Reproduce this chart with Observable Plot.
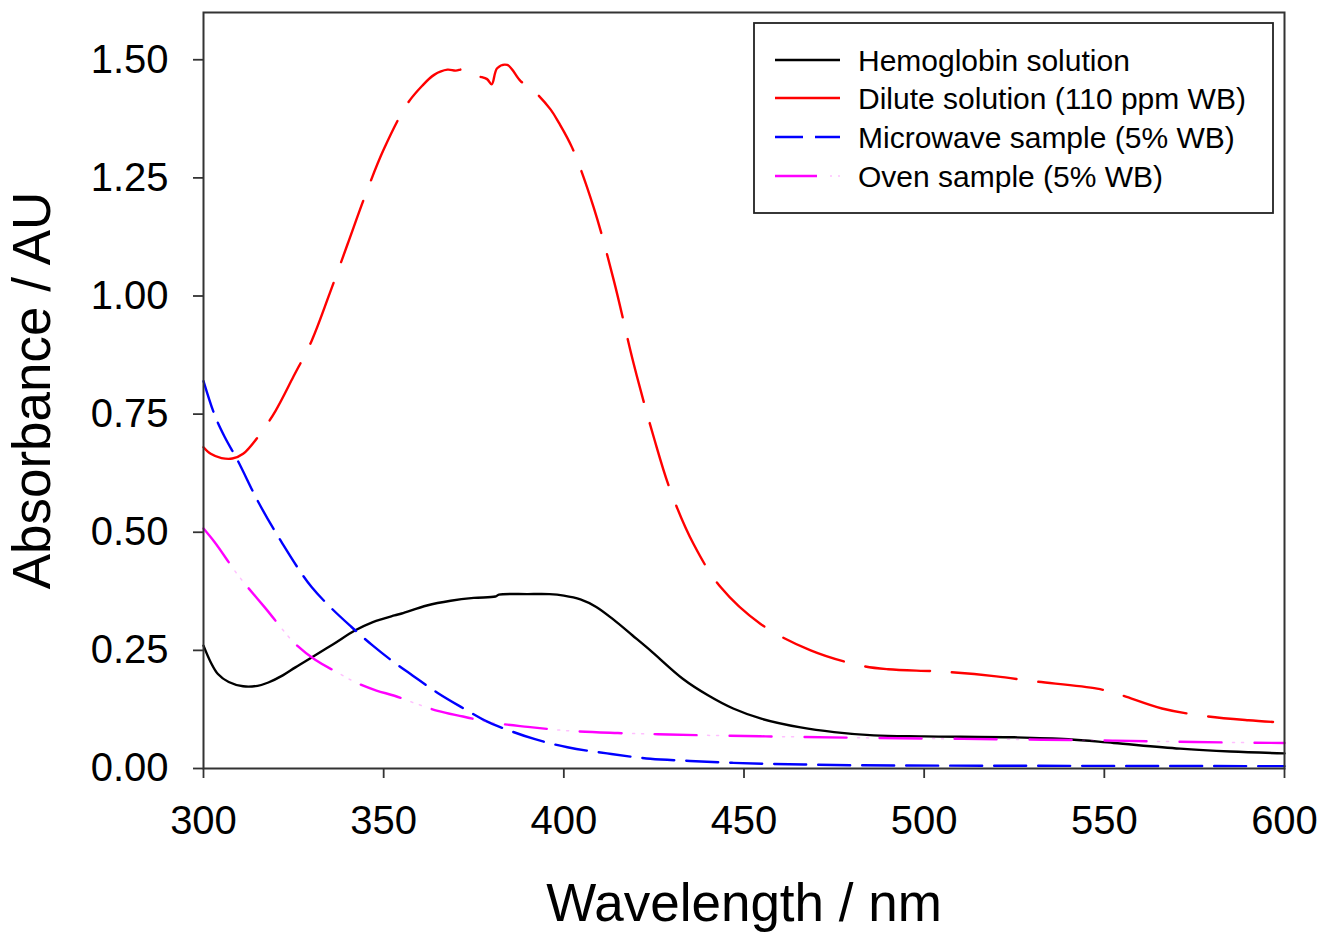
<!DOCTYPE html>
<html>
<head>
<meta charset="utf-8">
<script src="https://cdn.jsdelivr.net/npm/d3@7"></script>
<script src="https://cdn.jsdelivr.net/npm/@observablehq/plot@0.6"></script>
<style>
  html, body { margin: 0; padding: 0; background: #fff; }
  #wrap { position: relative; width: 1323px; height: 933px; font-family: "Liberation Sans", Arial, sans-serif; }
  #legend { position: absolute; left: 753px; top: 22px; }
</style>
</head>
<body>
<div id="wrap"></div>
<script>
// ---- Data ----
const seriesNames = ["Hemoglobin solution", "Dilute solution (110 ppm WB)", "Microwave sample (5% WB)", "Oven sample (5% WB)"];
const seriesColors = ["#000000", "#ff0000", "#0000ff", "#ff00ff"];

const hemoWl  = [300, 302, 304, 307, 311, 315, 318, 322, 325.5, 330, 336, 342, 347, 353, 355, 362, 368.6, 375, 381, 382, 390, 396, 400, 404.6, 409, 413.8, 419, 424, 433, 440, 447, 455, 465.7, 475, 486, 500, 525, 540, 552.6, 571, 585, 600];
const hemoAbs = [0.26, 0.225, 0.2, 0.183, 0.174, 0.175, 0.182, 0.197, 0.214, 0.235, 0.263, 0.292, 0.31, 0.324, 0.328, 0.345, 0.355, 0.361, 0.364, 0.368, 0.369, 0.369, 0.366, 0.358, 0.342, 0.315, 0.282, 0.25, 0.19, 0.155, 0.127, 0.105, 0.087, 0.077, 0.070, 0.068, 0.066, 0.062, 0.054, 0.042, 0.036, 0.032];

const diluteWl  = [300, 302, 305, 308, 311, 316, 320, 325, 330, 335, 340, 345, 350, 356.5, 360.7, 364, 367.7, 370, 372.3, 376, 378.7, 380, 381.5, 384.3, 388, 391.7, 396.3, 398.6, 402.3, 408.3, 413.9, 419.4, 425, 429.6, 436, 443.5, 454.6, 468.5, 482.3, 490, 505, 520, 530, 548, 554, 566, 578, 590, 600];
const diluteAbs = [0.68, 0.666, 0.657, 0.656, 0.666, 0.711, 0.757, 0.83, 0.905, 1.005, 1.11, 1.215, 1.31, 1.406, 1.445, 1.468, 1.479, 1.477, 1.48, 1.466, 1.459, 1.448, 1.482, 1.489, 1.455, 1.434, 1.395, 1.367, 1.314, 1.187, 1.032, 0.856, 0.70, 0.588, 0.475, 0.384, 0.306, 0.25, 0.218, 0.21, 0.205, 0.195, 0.185, 0.169, 0.157, 0.127, 0.111, 0.102, 0.097];

const microWl  = [300, 303, 306, 309, 315, 322, 330, 335, 341, 347, 353, 358, 365, 372, 378, 385, 392, 401, 412, 424, 435, 447, 470, 493, 550, 600];
const microAbs = [0.82, 0.75, 0.70, 0.659, 0.567, 0.475, 0.384, 0.343, 0.30, 0.26, 0.224, 0.197, 0.16, 0.128, 0.102, 0.08, 0.062, 0.045, 0.032, 0.0205, 0.016, 0.012, 0.008, 0.0063, 0.0055, 0.005];

const ovenWl  = [300, 303, 309, 317, 326, 331, 337, 342, 348, 353, 358, 365, 372, 378, 390, 401, 415, 429, 456, 493, 520, 553, 575, 600];
const ovenAbs = [0.508, 0.48, 0.415, 0.341, 0.26, 0.23, 0.204, 0.183, 0.165, 0.154, 0.140, 0.122, 0.11, 0.100, 0.088, 0.080, 0.075, 0.072, 0.068, 0.064, 0.062, 0.059, 0.056, 0.054];

const xTicks = [300, 350, 400, 450, 500, 550, 600];
const yTicks = [0, 0.25, 0.5, 0.75, 1.0, 1.25, 1.5];
const xTitle = "Wavelength / nm";
const yTitle = "Absorbance / AU";

// ---- Build tables ----
const toRows = (wl, ab) => wl.map((w, i) => ({w, a: ab[i]}));
const hemo = toRows(hemoWl, hemoAbs);
const dilute = toRows(diluteWl, diluteAbs);
const micro = toRows(microWl, microAbs);
const oven = toRows(ovenWl, ovenAbs);

const axisColor = "#333";
const font = "'Liberation Sans', Arial, sans-serif";
const lw = 2.4;

const chart = Plot.plot({
  width: 1323,
  height: 933,
  marginLeft: 203,
  marginRight: 39,
  marginTop: 12,
  marginBottom: 165,
  style: {fontFamily: font, background: "#fff", color: "#000"},
  x: {domain: [300, 600]},
  y: {domain: [0, 1.6]},
  marks: [
    Plot.axisX({ticks: xTicks, tickSize: 10, tickPadding: 27, fontSize: 40, stroke: axisColor, strokeWidth: 1.8, label: null, fill: "#000"}),
    Plot.axisY({ticks: yTicks, tickFormat: d3.format(".2f"), tickSize: 10, tickPadding: 25, fontSize: 40, stroke: axisColor, strokeWidth: 1.8, label: null, fill: "#000"}),
    Plot.line(hemo, {x: "w", y: "a", stroke: seriesColors[0], strokeWidth: lw, curve: "catmull-rom"}),
    Plot.line(dilute, {x: "w", y: "a", stroke: seriesColors[1], strokeWidth: lw, curve: "catmull-rom", strokeDasharray: "65,22"}),
    Plot.line(micro, {x: "w", y: "a", stroke: seriesColors[2], strokeWidth: lw, curve: "monotone-x", strokeDasharray: "32,12"}),
    Plot.line(oven, {x: "w", y: "a", stroke: seriesColors[3], strokeWidth: lw, curve: "monotone-x", strokeDasharray: "42,33"}),
    Plot.line(oven, {x: "w", y: "a", stroke: seriesColors[3], strokeWidth: 1.5, strokeOpacity: 0.25, curve: "monotone-x", strokeDasharray: "2,7,2,64", strokeDashoffset: 22}),
    Plot.frame({stroke: axisColor, strokeWidth: 2}),
    Plot.text([xTitle], {frameAnchor: "bottom", dy: 152, fontSize: 53, fill: "#000"}),
    Plot.text([yTitle], {frameAnchor: "left", dx: -170, rotate: -90, textAnchor: "middle", fontSize: 53, fill: "#000"})
  ]
});

const wrap = document.getElementById("wrap");
wrap.appendChild(chart);

// ---- Legend (overlay inside plot area) ----
const legW = 520, legH = 191;
const rowY = [38, 76, 115, 154];
const dashes = [null, null, "28,12", "42,100"];
const svgNS = "http://www.w3.org/2000/svg";
const leg = document.createElementNS(svgNS, "svg");
leg.setAttribute("id", "legend");
leg.setAttribute("width", legW + 2);
leg.setAttribute("height", legH + 2);
const box = document.createElementNS(svgNS, "rect");
box.setAttribute("x", 1); box.setAttribute("y", 1);
box.setAttribute("width", legW - 1); box.setAttribute("height", legH - 1);
box.setAttribute("fill", "#fff"); box.setAttribute("stroke", "#222"); box.setAttribute("stroke-width", 1.8);
leg.appendChild(box);
seriesNames.forEach((name, i) => {
  const ln = document.createElementNS(svgNS, "line");
  ln.setAttribute("x1", 22); ln.setAttribute("x2", 87);
  ln.setAttribute("y1", rowY[i]); ln.setAttribute("y2", rowY[i]);
  ln.setAttribute("stroke", seriesColors[i]); ln.setAttribute("stroke-width", lw);
  if (dashes[i]) ln.setAttribute("stroke-dasharray", dashes[i]);
  leg.appendChild(ln);
  if (i === 3) {
    [77, 85].forEach(cx => {
      const d = document.createElementNS(svgNS, "line");
      d.setAttribute("x1", cx); d.setAttribute("x2", cx + 2);
      d.setAttribute("y1", rowY[i]); d.setAttribute("y2", rowY[i]);
      d.setAttribute("stroke", seriesColors[i]); d.setAttribute("stroke-opacity", 0.25); d.setAttribute("stroke-width", 1.5);
      leg.appendChild(d);
    });
  }
  const t = document.createElementNS(svgNS, "text");
  t.setAttribute("x", 105); t.setAttribute("y", rowY[i]);
  t.setAttribute("dy", "0.36em");
  t.setAttribute("font-size", 30);
  t.setAttribute("font-family", font);
  t.setAttribute("fill", "#000");
  t.textContent = name;
  leg.appendChild(t);
});
wrap.appendChild(leg);
</script>
</body>
</html>
